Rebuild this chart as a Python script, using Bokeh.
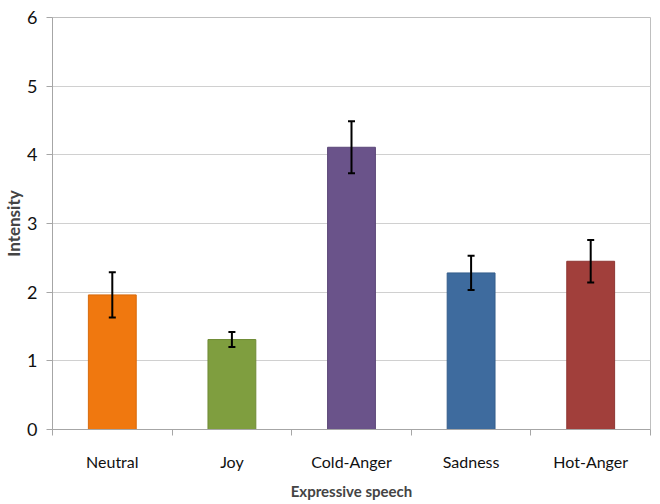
from bokeh.plotting import figure
from bokeh.models import ColumnDataSource, FixedTicker, Whisker, TeeHead
from bokeh.embed import file_html
from bokeh.resources import INLINE

# Mean intensity per expressive-speech category, with error half-widths
categories = ["Neutral", "Joy", "Cold-Anger", "Sadness", "Hot-Anger"]
intensity = [1.96, 1.31, 4.11, 2.28, 2.45]
error = [0.33, 0.11, 0.38, 0.25, 0.31]
fill_colors = ["#F0780F", "#7F9E3F", "#6A538A", "#3E6B9E", "#A13F3B"]
edge_colors = ["#D86A0C", "#6F8B35", "#5C4878", "#345D8B", "#8E3633"]
y_ticks = [0, 1, 2, 3, 4, 5, 6]

xs = [i + 0.5 for i in range(len(categories))]
src = ColumnDataSource(dict(
    x=xs, top=intensity, fill=fill_colors, edge=edge_colors,
    upper=[v + e for v, e in zip(intensity, error)],
    lower=[v - e for v, e in zip(intensity, error)],
))

FONT = "Lato"

p = figure(width=660, height=504, x_range=(0, len(categories)), y_range=(0, 6),
           output_backend="svg", toolbar_location=None,
           min_border_left=51, min_border_right=10, min_border_top=17,
           min_border_bottom=75)
p.outline_line_color = "#BFBFBF"
p.background_fill_color = "white"
p.border_fill_color = "white"

p.vbar(x="x", top="top", width=0.4, bottom=0, source=src,
       fill_color="fill", line_color="edge", line_width=1)

w = Whisker(base="x", upper="upper", lower="lower", source=src,
            line_color="black", line_width=2, level="overlay",
            upper_head=TeeHead(size=7, line_color="black", line_width=2),
            lower_head=TeeHead(size=7, line_color="black", line_width=2))
p.add_layout(w)

# x axis: labels at bar centres, small ticks on category boundaries
xa = p.xaxis[0]
xa.ticker = FixedTicker(ticks=xs, minor_ticks=list(range(len(categories) + 1)))
xa.major_label_overrides = {x: c for x, c in zip(xs, categories)}
xa.major_tick_line_color = None
xa.major_tick_out = 0
xa.minor_tick_line_color = "#A6A6A6"
xa.minor_tick_out = 6
xa.minor_tick_in = 0
xa.axis_line_color = "#A6A6A6"
xa.major_label_standoff = 16
xa.major_label_text_font = FONT
xa.major_label_text_font_size = "16px"
xa.major_label_text_color = "#111111"
xa.axis_label = "Expressive speech"
xa.axis_label_text_font = FONT
xa.axis_label_text_font_style = "bold"
xa.axis_label_text_font_size = "15px"
xa.axis_label_standoff = 8

ya = p.yaxis[0]
ya.ticker = FixedTicker(ticks=y_ticks)
ya.minor_tick_line_color = None
ya.major_tick_in = 0
ya.major_tick_out = 6
ya.major_tick_line_color = "#A6A6A6"
ya.axis_line_color = "#A6A6A6"
ya.major_label_standoff = 9
ya.major_label_text_font = FONT
ya.major_label_text_font_size = "18px"
ya.major_label_text_color = "#111111"
ya.axis_label = "Intensity"
ya.axis_label_text_font = FONT
ya.axis_label_text_font_style = "bold"
ya.axis_label_text_font_size = "17px"
ya.axis_label_standoff = 0

p.xgrid.grid_line_color = None
p.ygrid.grid_line_color = "#D0D0D0"
p.ygrid.grid_line_width = 1

open("out.html", "w").write(file_html(p, INLINE))
